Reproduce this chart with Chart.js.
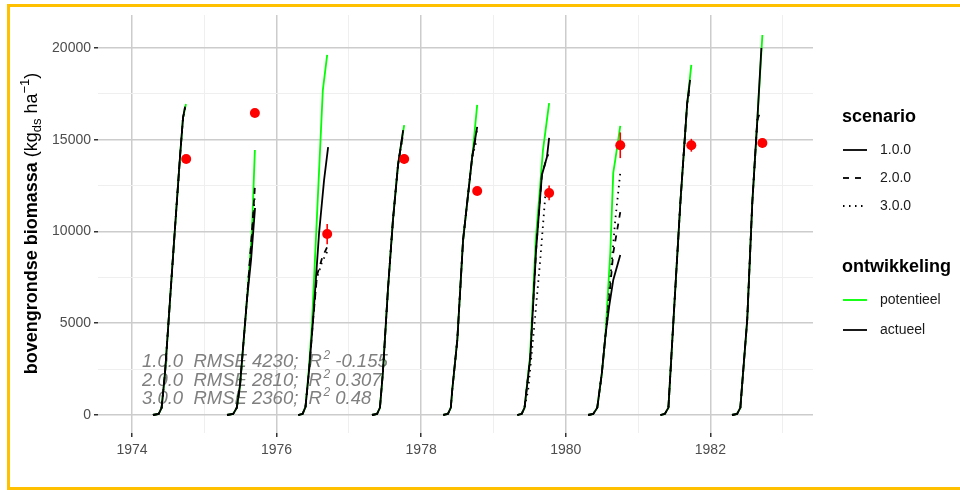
<!DOCTYPE html>
<html>
<head>
<meta charset="utf-8">
<script src="https://cdn.jsdelivr.net/npm/chart.js@4/dist/chart.umd.min.js"></script>
<style>
  html, body { margin: 0; padding: 0; background: #ffffff; }
  #wrap { width: 960px; height: 490px; }
</style>
</head>
<body>
<div id="wrap"><canvas id="chart" width="960" height="490"></canvas></div>
<script>
/* -----------------------
   Data
   x = decimal year, y = kg ds / ha
   ----------------------- */
const potentieel = [
  [[1974.29,0],[1974.37,60],[1974.41,400],[1974.457,2290],[1974.567,8610],[1974.664,14060],[1974.706,16190],[1974.747,16950]],
  [[1975.315,0],[1975.40,60],[1975.45,400],[1975.495,1640],[1975.59,6270],[1975.66,10080],[1975.70,14440]],
  [[1976.30,0],[1976.36,60],[1976.40,440],[1976.445,2450],[1976.49,5010],[1976.64,17710],[1976.70,19620]],
  [[1977.32,0],[1977.39,60],[1977.43,400],[1977.47,2290],[1977.54,6810],[1977.61,10630],[1977.68,13630],[1977.765,15800]],
  [[1978.305,0],[1978.37,60],[1978.41,400],[1978.43,1360],[1978.50,4090],[1978.58,9540],[1978.706,14060],[1978.775,16900]],
  [[1979.33,0],[1979.39,60],[1979.43,400],[1979.505,3160],[1979.585,9540],[1979.685,14440],[1979.77,17000]],
  [[1980.31,0],[1980.38,60],[1980.436,400],[1980.50,2300],[1980.547,4250],[1980.616,8830],[1980.657,13190],[1980.685,13900],[1980.754,15750]],
  [[1981.31,0],[1981.37,60],[1981.42,400],[1981.49,5180],[1981.585,11550],[1981.68,17000],[1981.737,19080]],
  [[1982.30,0],[1982.37,60],[1982.415,400],[1982.51,5180],[1982.58,11550],[1982.65,16080],[1982.72,20710]]
];

const scenario1 = [
  [[1974.29,0],[1974.37,60],[1974.41,400],[1974.457,2290],[1974.567,8610],[1974.664,14060],[1974.706,16190],[1974.734,16800]],
  [[1975.315,0],[1975.40,60],[1975.45,400],[1975.495,1640],[1975.59,6270],[1975.647,8450],[1975.702,11280]],
  [[1976.30,0],[1976.36,60],[1976.40,440],[1976.45,2450],[1976.505,5180],[1976.588,9920],[1976.657,12800],[1976.713,14600]],
  [[1977.32,0],[1977.39,60],[1977.43,400],[1977.47,2290],[1977.54,6810],[1977.61,10630],[1977.68,13630],[1977.751,15530]],
  [[1978.305,0],[1978.37,60],[1978.41,400],[1978.43,1360],[1978.50,4090],[1978.58,9540],[1978.706,14060],[1978.775,15700]],
  [[1979.33,0],[1979.39,60],[1979.43,400],[1979.51,3160],[1979.59,9000],[1979.67,13080],[1979.74,14060],[1979.77,15100]],
  [[1980.31,0],[1980.38,60],[1980.436,400],[1980.50,2300],[1980.547,4250],[1980.60,5900],[1980.657,7360],[1980.754,8720]],
  [[1981.31,0],[1981.37,60],[1981.42,400],[1981.49,5180],[1981.585,11550],[1981.68,17000],[1981.72,18260]],
  [[1982.30,0],[1982.37,60],[1982.415,400],[1982.51,5180],[1982.58,11550],[1982.65,16080],[1982.706,20000]]
];

const scenario2 = [
  [[1974.29,0],[1974.37,60],[1974.41,400],[1974.457,2290],[1974.567,8610],[1974.664,14060],[1974.706,16190],[1974.734,16750]],
  [[1975.315,0],[1975.40,60],[1975.45,400],[1975.495,1640],[1975.59,6270],[1975.66,10000],[1975.70,12430]],
  [[1976.30,0],[1976.36,60],[1976.40,440],[1976.45,2450],[1976.505,5180],[1976.56,7630],[1976.63,8560],[1976.70,9160]],
  [[1977.32,0],[1977.39,60],[1977.43,400],[1977.47,2290],[1977.54,6810],[1977.61,10630],[1977.68,13630],[1977.75,15400]],
  [[1978.305,0],[1978.37,60],[1978.41,400],[1978.43,1360],[1978.50,4090],[1978.58,9540],[1978.706,14060],[1978.77,15500]],
  [[1979.33,0],[1979.39,60],[1979.43,400],[1979.51,3160],[1979.59,9000],[1979.67,13080],[1979.74,14060],[1979.76,14200]],
  [[1980.31,0],[1980.38,60],[1980.436,400],[1980.50,2300],[1980.547,4250],[1980.574,5180],[1980.657,8830],[1980.754,11060]],
  [[1981.31,0],[1981.37,60],[1981.42,400],[1981.49,5180],[1981.585,11550],[1981.68,17000],[1981.715,17900]],
  [[1982.30,0],[1982.37,60],[1982.415,400],[1982.51,5180],[1982.58,11550],[1982.65,16080],[1982.69,16510]]
];

const scenario3 = [
  [[1974.29,0],[1974.37,60],[1974.41,400],[1974.457,2290],[1974.567,8610],[1974.664,14060],[1974.706,16190],[1974.734,16700]],
  [[1975.315,0],[1975.40,60],[1975.45,400],[1975.495,1640],[1975.59,6270],[1975.66,9900],[1975.70,12000]],
  [[1976.30,0],[1976.36,60],[1976.40,440],[1976.45,2450],[1976.505,5180],[1976.555,7400],[1976.625,8300],[1976.70,8900]],
  [[1977.32,0],[1977.39,60],[1977.43,400],[1977.47,2290],[1977.54,6810],[1977.61,10630],[1977.68,13630],[1977.75,15300]],
  [[1978.305,0],[1978.37,60],[1978.41,400],[1978.43,1360],[1978.50,4090],[1978.58,9540],[1978.706,14060],[1978.77,15000]],
  [[1979.33,0],[1979.39,60],[1979.43,400],[1979.48,1360],[1979.56,4630],[1979.647,8450],[1979.716,11880],[1979.76,12200]],
  [[1980.31,0],[1980.38,60],[1980.436,400],[1980.50,2300],[1980.547,4250],[1980.588,6100],[1980.685,10630],[1980.754,13190]],
  [[1981.31,0],[1981.37,60],[1981.42,400],[1981.49,5180],[1981.585,11550],[1981.68,17000],[1981.71,17600]],
  [[1982.30,0],[1982.37,60],[1982.415,400],[1982.51,5180],[1982.58,11550],[1982.65,16080],[1982.69,16300]]
];

// waarnemingen (rode punten) met foutbalk
const obsX   = [1974.75, 1975.70, 1976.70, 1977.765, 1978.775, 1979.77, 1980.754, 1981.737, 1982.72];
const obsY   = [13950, 16460, 9860, 13950, 12210, 12100, 14700, 14700, 14820];
const obsErr = [150, 200, 550, 250, 100, 400, 700, 350, 250];

// statistieken (tekst in de grafiek)
const statLabels = ['1.0.0', '2.0.0', '3.0.0'];
const statRmse   = ['4230', '2810', '2360'];
const statR2     = ['-0.155', '0.307', '0.48'];

// as-indeling
const yTicks = [0, 2500, 5000, 7500, 10000, 12500, 15000, 17500, 20000];
const X_MIN = 1973.53, X_MAX = 1983.42;
const Y_MIN = -981, Y_MAX = 21798;

const FONT = '"Liberation Sans", Arial, Helvetica, sans-serif';
const GREEN = '#00ff00';

/* -----------------------
   helpers
   ----------------------- */
function toPoints(seasons){
  const out = [];
  seasons.forEach((s, i) => {
    if(i) out.push({x: s[0][0] - 0.05, y: null}); // gap between seasons
    s.forEach(p => out.push({x: p[0], y: p[1]}));
  });
  return out;
}

function lineSet(label, seasons, color, dash){
  return {
    type: 'line',
    label,
    data: toPoints(seasons),
    borderColor: color,
    borderWidth: 1.8,
    borderDash: dash,
    pointRadius: 0,
    tension: 0,
    spanGaps: false,
    fill: false
  };
}

/* -----------------------
   extras: border, y title, stats text, error bars, legend
   ----------------------- */
const extras = {
  id: 'extras',
  beforeDatasetsDraw(chart){
    const ctx = chart.ctx;
    ctx.save();
    ctx.fillStyle = '#7f7f7f';
    ctx.textBaseline = 'alphabetic';
    const baselines = [367, 385.5, 404];
    statLabels.forEach((lab, i) => {
      let x = 142;
      const y = baselines[i];
      ctx.font = 'italic 18.5px ' + FONT;
      const main = `${lab}  RMSE ${statRmse[i]};  R`;
      ctx.fillText(main, x, y);
      x += ctx.measureText(main).width + 1.5;
      ctx.font = 'italic 12px ' + FONT;
      ctx.fillText('2', x, y - 8);
      x += ctx.measureText('2').width;
      ctx.font = 'italic 18.5px ' + FONT;
      ctx.fillText(' ' + statR2[i], x, y);
    });
    ctx.restore();
  },
  afterDatasetsDraw(chart){
    // foutbalken op de waarnemingen
    const ctx = chart.ctx;
    const xs = chart.scales.x, ys = chart.scales.y;
    ctx.save();
    ctx.strokeStyle = '#ff0000';
    ctx.lineWidth = 1.6;
    obsX.forEach((xv, i) => {
      const px = xs.getPixelForValue(xv);
      ctx.beginPath();
      ctx.moveTo(px, ys.getPixelForValue(obsY[i] - obsErr[i]));
      ctx.lineTo(px, ys.getPixelForValue(obsY[i] + obsErr[i]));
      ctx.stroke();
    });
    ctx.restore();
  },
  afterDraw(chart){
    const ctx = chart.ctx;
    ctx.save();

    // y-as titel met sub/superscript
    ctx.translate(37, 223.5);
    ctx.rotate(-Math.PI / 2);
    ctx.fillStyle = '#000000';
    ctx.textBaseline = 'alphabetic';
    const parts = [
      {t: 'bovengrondse biomassa ', f: 'bold 18px ' + FONT, dy: 0},
      {t: '(kg', f: '18px ' + FONT, dy: 0},
      {t: 'ds', f: '13px ' + FONT, dy: 4},
      {t: ' ha', f: '18px ' + FONT, dy: 0},
      {t: '\u22121', f: '13px ' + FONT, dy: -8},
      {t: ')', f: '18px ' + FONT, dy: 0}
    ];
    let total = 0;
    parts.forEach(p => { ctx.font = p.f; p.w = ctx.measureText(p.t).width; total += p.w; });
    let x = -total / 2;
    parts.forEach(p => { ctx.font = p.f; ctx.fillText(p.t, x, p.dy); x += p.w; });
    ctx.restore();

    // legenda
    ctx.save();
    ctx.textBaseline = 'middle';
    ctx.fillStyle = '#000000';
    ctx.font = 'bold 18px ' + FONT;
    ctx.fillText('scenario', 842, 117);
    ctx.fillText('ontwikkeling', 842, 267);

    const keys = [
      {y: 150, label: '1.0.0', color: '#000000', dash: []},
      {y: 178, label: '2.0.0', color: '#000000', dash: [6, 6]},
      {y: 206, label: '3.0.0', color: '#000000', dash: [1.5, 4.5]},
      {y: 300, label: 'potentieel', color: GREEN, dash: []},
      {y: 330, label: 'actueel', color: '#000000', dash: []}
    ];
    keys.forEach(k => {
      ctx.strokeStyle = k.color;
      ctx.lineWidth = 1.8;
      ctx.setLineDash(k.dash);
      ctx.beginPath();
      ctx.moveTo(843, k.y);
      ctx.lineTo(867, k.y);
      ctx.stroke();
      ctx.setLineDash([]);
      ctx.font = '14px ' + FONT;
      ctx.fillStyle = '#1a1a1a';
      ctx.fillText(k.label, 880, k.y);
    });
    ctx.restore();

    // gele rand van de dia
    ctx.save();
    ctx.strokeStyle = '#ffc000';
    ctx.lineWidth = 3;
    ctx.strokeRect(8.5, 5.5, 1000, 483);
    ctx.restore();
  }
};

/* -----------------------
   chart
   ----------------------- */
const ctx = document.getElementById('chart').getContext('2d');

const chart = new Chart(ctx, {
  type: 'line',
  data: {
    datasets: [
      {
        type: 'scatter',
        label: 'waarneming',
        data: obsX.map((x, i) => ({x, y: obsY[i]})),
        backgroundColor: '#ff0000',
        borderWidth: 0,
        pointRadius: 5,
        showLine: false
      },
      lineSet('1.0.0', scenario1, '#000000', []),
      lineSet('2.0.0', scenario2, '#000000', [6, 6]),
      lineSet('3.0.0', scenario3, '#000000', [1.5, 4.5]),
      lineSet('potentieel', potentieel, GREEN, [])
    ]
  },
  options: {
    responsive: false,
    animation: false,
    devicePixelRatio: 1,
    layout: { padding: { top: 15, right: 147, left: 0, bottom: 0 } },
    plugins: { legend: { display: false }, tooltip: { enabled: false } },
    scales: {
      x: {
        type: 'linear',
        min: X_MIN,
        max: X_MAX,
        afterFit(scale){ scale.height = 57; },
        border: { display: false },
        grid: {
          color: c => (c.tick && c.tick.value % 2 === 0) ? '#cccccc' : '#efefef',
          lineWidth: c => (c.tick && c.tick.value % 2 === 0) ? 1.5 : 1,
          tickColor: c => (c.tick && c.tick.value % 2 === 0) ? '#333333' : 'rgba(0,0,0,0)',
          tickLength: 4,
          tickWidth: 1.5
        },
        ticks: {
          stepSize: 1,
          includeBounds: false,
          autoSkip: false,
          maxRotation: 0,
          padding: 5,
          color: '#4d4d4d',
          font: { family: FONT, size: 14 },
          callback: v => (v % 2 === 0) ? String(v) : ''
        }
      },
      y: {
        min: Y_MIN,
        max: Y_MAX,
        afterFit(scale){ scale.width = 98; },
        afterBuildTicks(scale){ scale.ticks = yTicks.map(v => ({value: v})); },
        border: { display: false },
        grid: {
          color: c => (c.tick && c.tick.value % 5000 === 0) ? '#cccccc' : '#efefef',
          lineWidth: c => (c.tick && c.tick.value % 5000 === 0) ? 1.5 : 1,
          tickColor: c => (c.tick && c.tick.value % 5000 === 0) ? '#333333' : 'rgba(0,0,0,0)',
          tickLength: 4,
          tickWidth: 1.5
        },
        ticks: {
          autoSkip: false,
          padding: 3,
          color: '#4d4d4d',
          font: { family: FONT, size: 14 },
          callback: v => (v % 5000 === 0) ? String(v) : ''
        }
      }
    }
  },
  plugins: [extras]
});
</script>
</body>
</html>
